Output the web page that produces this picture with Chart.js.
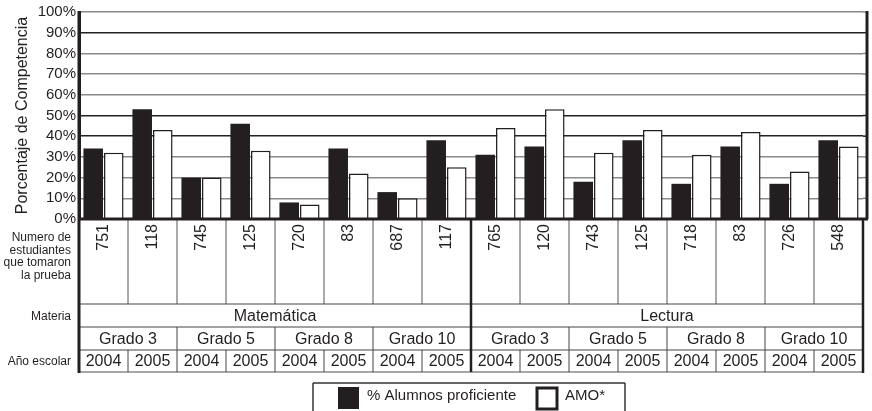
<!DOCTYPE html>
<html>
<head>
<meta charset="utf-8">
<script src="https://cdn.jsdelivr.net/npm/chart.js@4.4.0/dist/chart.umd.min.js"></script>
<style>
  html, body { margin: 0; padding: 0; background: #fff; }
</style>
</head>
<body>
<canvas id="chart" width="872" height="411"></canvas>
<script>
const materias = ['Matemática', 'Lectura']
const grados = ['Grado 3', 'Grado 5', 'Grado 8', 'Grado 10']
const anos = ['2004', '2005']

// % Alumnos proficiente (black) and AMO* (white), one value per column
const alumnosProficiente = [34, 53, 20, 46, 8, 34, 13, 38, 31, 35, 18, 38, 17, 35, 17, 38]
const amo = [32, 43, 20, 33, 7, 22, 10, 25, 44, 53, 32, 43, 31, 42, 23, 35]
const numeroEstudiantes = [751, 118, 745, 125, 720, 83, 687, 117, 765, 120, 743, 125, 718, 83, 726, 548]

const rowLabels = {
  numero: ['Numero de', 'estudiantes', 'que tomaron', 'la prueba'],
  materia: 'Materia',
  ano: 'Año escolar'
}
const darkGridValues = [40, 50, 90]

const labels = []
materias.forEach(m => grados.forEach(g => anos.forEach(a => labels.push(m + ' ' + g + ' ' + a))))

const FONT = '"Liberation Sans", Arial, sans-serif'
const INK = '#231f20'

const tablePlugin = {
  id: 'tablePlugin',
  afterDraw (chart) {
    const { ctx, chartArea } = chart
    const xs = chart.scales.x
    const ys = chart.scales.y
    const n = labels.length
    const colW = (chartArea.right - chartArea.left) / n
    const colLeft = i => xs.getPixelForValue(i) - colW / 2
    const left = chartArea.left
    const right = chartArea.right
    const top = chartArea.bottom
    const rowNum = top + 85
    const rowMat = rowNum + 23
    const rowGr = rowMat + 23
    const rowYr = rowGr + 22
    const outer = right + 4

    const line = (x1, y1, x2, y2, w, c) => {
      ctx.beginPath()
      ctx.lineWidth = w
      ctx.strokeStyle = c
      ctx.moveTo(x1, y1)
      ctx.lineTo(x2, y2)
      ctx.stroke()
    }

    ctx.save()
    // grid lines continue past the last column up to the outer border
    ys.ticks.forEach(t => {
      const y = ys.getPixelForValue(t.value)
      const c = darkGridValues.includes(t.value) ? '#222' : '#8a8a8a'
      if (t.value > 0) line(right, y, outer, y, 1.5, c)
    })
    line(outer, chartArea.top - 1, outer, top, 3, INK)

    // number row cell separators
    for (let i = 1; i < n; i++) line(colLeft(i), top, colLeft(i), rowNum, 1, '#555')
    line(left, rowNum, right, rowNum, 1, '#444')
    line(left, rowMat, right, rowMat, 1, '#444')
    line(left, rowGr, right, rowGr, 1, '#444')
    line(left, rowYr, right, rowYr, 1.5, '#888')
    for (let i = 2; i < n; i += 2) line(colLeft(i), rowMat, colLeft(i), rowYr, 1, '#444')
    for (let i = 1; i < n; i += 2) line(colLeft(i), rowGr, colLeft(i), rowYr, 1, '#444')
    line(colLeft(n / 2), top, colLeft(n / 2), rowYr, 2.5, INK)
    line(left, chartArea.top - 1, left, rowYr + 1, 3, INK)
    line(right, top, right, rowYr + 1, 2.5, INK)
    line(left, top, outer + 1, top, 3, INK)

    // texts
    ctx.fillStyle = INK
    ctx.font = '16px ' + FONT
    numeroEstudiantes.forEach((v, i) => {
      ctx.save()
      ctx.translate(xs.getPixelForValue(i), top + 5)
      ctx.rotate(-Math.PI / 2)
      ctx.textAlign = 'right'
      ctx.textBaseline = 'middle'
      ctx.fillText(String(v), 0, 0)
      ctx.restore()
    })
    ctx.textAlign = 'center'
    ctx.textBaseline = 'middle'
    const per = n / materias.length
    materias.forEach((m, k) => {
      const x = (colLeft(k * per) + colLeft(k * per + per - 1) + colW) / 2
      ctx.fillText(m, x, (rowNum + rowMat) / 2 + 1)
    })
    for (let i = 0; i < n; i += 2) {
      const g = grados[(i / 2) % grados.length]
      ctx.fillText(g, colLeft(i) + colW, (rowMat + rowGr) / 2 + 1)
    }
    for (let i = 0; i < n; i++) {
      ctx.fillText(anos[i % anos.length], xs.getPixelForValue(i), (rowGr + rowYr) / 2 + 1)
    }

    ctx.font = '12px ' + FONT
    ctx.textAlign = 'right'
    rowLabels.numero.forEach((t, k) => ctx.fillText(t, left - 8, top + 19 + k * 12.5))
    ctx.fillText(rowLabels.materia, left - 8, (rowNum + rowMat) / 2 + 1)
    ctx.fillText(rowLabels.ano, left - 8, (rowGr + rowYr) / 2 + 1)

    // legend
    const lx = 313
    const ly = rowYr + 11
    ctx.fillStyle = '#fff'
    ctx.fillRect(lx, ly, 312, 40)
    line(lx, ly, lx + 312, ly, 1.5, '#333')
    line(lx, ly, lx, ly + 40, 1.5, '#333')
    line(lx + 312, ly, lx + 312, ly + 40, 1.5, '#333')
    const ds = chart.data.datasets
    ctx.fillStyle = ds[0].backgroundColor
    ctx.fillRect(338, ly + 4, 21, 22)
    ctx.fillStyle = '#fff'
    ctx.fillRect(537, ly + 5, 20, 21)
    ctx.lineWidth = 3
    ctx.strokeStyle = INK
    ctx.strokeRect(537, ly + 5, 20, 21)
    ctx.fillStyle = INK
    ctx.font = '15px ' + FONT
    ctx.textAlign = 'left'
    ctx.fillText(ds[0].label, 367, ly + 13)
    ctx.fillText(ds[1].label, 565, ly + 13)
    ctx.restore()
  }
}

new Chart(document.getElementById('chart'), {
  type: 'bar',
  data: {
    labels,
    datasets: [
      {
        label: '% Alumnos proficiente',
        data: alumnosProficiente,
        backgroundColor: INK,
        borderWidth: 0,
        categoryPercentage: 0.84,
        barPercentage: 0.95
      },
      {
        label: 'AMO*',
        data: amo,
        backgroundColor: '#fff',
        borderColor: INK,
        borderWidth: 1.5,
        categoryPercentage: 0.84,
        barPercentage: 0.95
      }
    ]
  },
  options: {
    responsive: false,
    animation: false,
    layout: { padding: { top: 11, right: 9, bottom: 192, left: 0 } },
    plugins: {
      legend: { display: false },
      tooltip: { enabled: false }
    },
    scales: {
      x: { display: false },
      y: {
        min: 0,
        max: 100,
        afterFit (scale) { scale.width = 79 },
        ticks: {
          stepSize: 10,
          autoSkip: false,
          padding: 3,
          color: INK,
          font: { family: FONT, size: 15 },
          callback: v => v + '%'
        },
        grid: {
          drawTicks: false,
          lineWidth: 1.5,
          color: c => darkGridValues.includes(c.tick.value) ? '#222' : '#8a8a8a'
        },
        border: { display: true, width: 3, color: INK },
        title: {
          display: true,
          text: 'Porcentaje de Competencia',
          color: INK,
          font: { family: FONT, size: 16 },
          padding: { top: 13, bottom: 0 }
        }
      }
    }
  },
  plugins: [tablePlugin]
})
</script>
</body>
</html>
